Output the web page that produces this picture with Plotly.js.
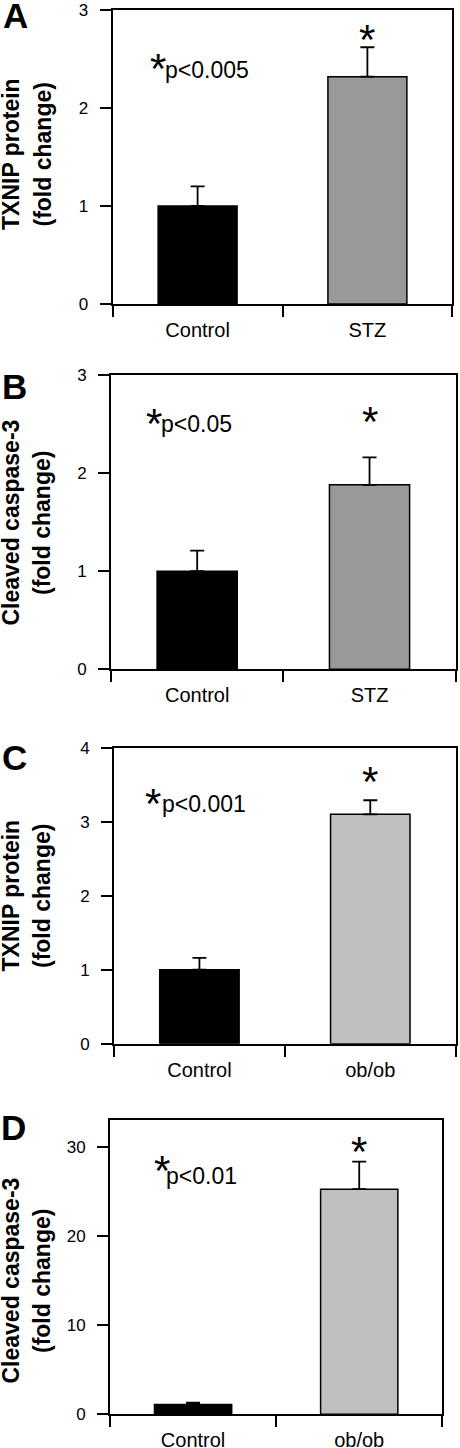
<!DOCTYPE html>
<html>
<head>
<meta charset="utf-8">
<script src="https://cdn.plot.ly/plotly-3.0.1.min.js"></script>
<style>
  html, body { margin: 0; padding: 0; background: #ffffff; }
  #chart { width: 460px; height: 1448px; }
</style>
</head>
<body>
<div id="chart"></div>
<script>
// ---- Data ----
const categoriesSTZ = ['Control', 'STZ'];
const categoriesOb = ['Control', 'ob/ob'];

const txnipSTZ = [1.0, 2.32];
const txnipSTZErr = [0.2, 0.3];

const caspSTZ = [1.0, 1.88];
const caspSTZErr = [0.21, 0.28];

const txnipOb = [1.0, 3.1];
const txnipObErr = [0.16, 0.19];

const caspOb = [1.1, 25.3];
const caspObErr = [0.2, 3.1];

const yTicksA = [0, 1, 2, 3];
const yTicksB = [0, 1, 2, 3];
const yTicksC = [0, 1, 2, 3, 4];
const yTicksD = [0, 10, 20, 30];

const panelLetters = ['A', 'B', 'C', 'D'];
const yTitleLine1 = ['TXNIP protein', 'Cleaved caspase-3', 'TXNIP protein', 'Cleaved caspase-3'];
const yTitleLine2 = ['(fold change)', '(fold change)', '(fold change)', '(fold change)'];
const pLabels = ['p&lt;0.005', 'p&lt;0.05', 'p&lt;0.001', 'p&lt;0.01'];

// ---- Layout helpers ----
const W = 460, H = 1448;
const px = v => v / W;
const py = v => 1 - v / H;
const FONT = 'Liberation Sans, Arial, Helvetica, sans-serif';

const colorsSTZ = ['#000000', '#999999'];
const colorsOb = ['#000000', '#c0c0c0'];

function barTrace(xa, ya, cats, vals, errs, colors) {
  return {
    type: 'bar', x: cats, y: vals, xaxis: xa, yaxis: ya,
    width: 0.465,
    marker: { color: colors, line: { color: '#000000', width: 1.5 } },
    error_y: { type: 'data', array: errs, arrayminus: errs.map(() => 0), symmetric: false,
               visible: true, color: '#000000', thickness: 1.8, width: 7 },
    hoverinfo: 'skip', showlegend: false
  };
}

const data = [
  barTrace('x', 'y', categoriesSTZ, txnipSTZ, txnipSTZErr, colorsSTZ),
  barTrace('x2', 'y2', categoriesSTZ, caspSTZ, caspSTZErr, colorsSTZ),
  barTrace('x3', 'y3', categoriesOb, txnipOb, txnipObErr, colorsOb),
  barTrace('x4', 'y4', categoriesOb, caspOb, caspObErr, colorsOb)
];

// panel geometry in pixels: left, right, top, bottom
const panels = [
  { l: 112.7, r: 452.3, t: 10, b: 304, range: [0, 3], ticks: yTicksA },
  { l: 111, r: 455.7, t: 375, b: 669.3, range: [0, 3], ticks: yTicksB },
  { l: 114, r: 455.7, t: 747.7, b: 1043.7, range: [0, 4], ticks: yTicksC },
  { l: 110, r: 442.3, t: 1120, b: 1414.3, range: [0, 33.07], ticks: yTicksD }
];

function xAxis(p, anchor) {
  return {
    domain: [px(p.l), px(p.r)], anchor: anchor, type: 'category', range: [-0.5, 1.5],
    tickson: 'boundaries', ticks: 'outside', ticklen: 11, tickwidth: 2, tickcolor: '#000',
    showline: true, linewidth: 2, linecolor: '#000', mirror: true,
    showgrid: false, zeroline: false, fixedrange: true,
    tickfont: { family: FONT, size: 20, color: '#000' }, ticklabelstandoff: 7
  };
}
function yAxis(p, anchor) {
  return {
    domain: [py(p.b), py(p.t)], anchor: anchor, range: p.range,
    tickmode: 'array', tickvals: p.ticks, ticktext: p.ticks.map(String),
    ticks: 'outside', ticklen: 11, tickwidth: 2, tickcolor: '#000',
    showline: true, linewidth: 2, linecolor: '#000', mirror: true,
    showgrid: false, zeroline: false, fixedrange: true,
    tickfont: { family: FONT, size: 17, color: '#000' }, ticklabelstandoff: 8
  };
}

const layout = {
  width: W, height: H,
  margin: { l: 0, r: 0, t: 0, b: 0, pad: 0 },
  paper_bgcolor: '#ffffff', plot_bgcolor: '#ffffff',
  showlegend: false,
  bargap: 0,
  xaxis: xAxis(panels[0], 'y'), yaxis: yAxis(panels[0], 'x'),
  xaxis2: xAxis(panels[1], 'y2'), yaxis2: yAxis(panels[1], 'x2'),
  xaxis3: xAxis(panels[2], 'y3'), yaxis3: yAxis(panels[2], 'x3'),
  xaxis4: xAxis(panels[3], 'y4'), yaxis4: yAxis(panels[3], 'x4'),
  annotations: []
};

// panel letters
const letterPos = [[15, 15], [14, 386], [14, 757], [13, 1127]];
// y-title vertical centers
const titleCenters = [154.5, 523, 896, 1281];
// asterisk + p-label positions (asterisk center x, asterisk box y, p-label left x, p-label box y)
const pPos = [[157.5, 68.5, 163, 70.4], [153.5, 423.5, 159, 424.4], [153, 803.5, 160, 804.4], [161.5, 1170.5, 164, 1176.4]];
// significance stars above treated bar (box y)
const starY = [39.5, 421.5, 781.5, 1151.5];
const treatedCats = ['STZ', 'STZ', 'ob/ob', 'ob/ob'];
const xNames = ['x', 'x2', 'x3', 'x4'];

for (let i = 0; i < 4; i++) {
  layout.annotations.push({
    xref: 'paper', yref: 'paper', x: px(letterPos[i][0]), y: py(letterPos[i][1]),
    xanchor: 'center', yanchor: 'middle', showarrow: false,
    text: '<b>' + panelLetters[i] + '</b>', font: { family: FONT, size: 35, color: '#000' }
  });
  layout.annotations.push({
    xref: 'paper', yref: 'paper', x: px(10.5), y: py(titleCenters[i]),
    xanchor: 'center', yanchor: 'middle', showarrow: false, textangle: -90,
    text: '<b>' + yTitleLine1[i] + '</b>', font: { family: FONT, size: 23, color: '#000' }
  });
  layout.annotations.push({
    xref: 'paper', yref: 'paper', x: px(42), y: py(titleCenters[i]),
    xanchor: 'center', yanchor: 'middle', showarrow: false, textangle: -90,
    text: '<b>' + yTitleLine2[i] + '</b>', font: { family: FONT, size: 23, color: '#000' }
  });
  layout.annotations.push({
    xref: 'paper', yref: 'paper', x: px(pPos[i][0]), y: py(pPos[i][1]),
    xanchor: 'center', yanchor: 'middle', showarrow: false,
    text: '*', font: { family: FONT, size: 42, color: '#000' }
  });
  layout.annotations.push({
    xref: 'paper', yref: 'paper', x: px(pPos[i][2]), y: py(pPos[i][3]),
    xanchor: 'left', yanchor: 'middle', showarrow: false,
    text: pLabels[i], font: { family: FONT, size: 23, color: '#000' }
  });
  layout.annotations.push({
    xref: xNames[i], yref: 'paper', x: treatedCats[i], y: py(starY[i]),
    xanchor: 'center', yanchor: 'middle', showarrow: false,
    text: '*', font: { family: FONT, size: 42, color: '#000' }
  });
}

Plotly.newPlot('chart', data, layout, { displayModeBar: false, staticPlot: true });
</script>
</body>
</html>
